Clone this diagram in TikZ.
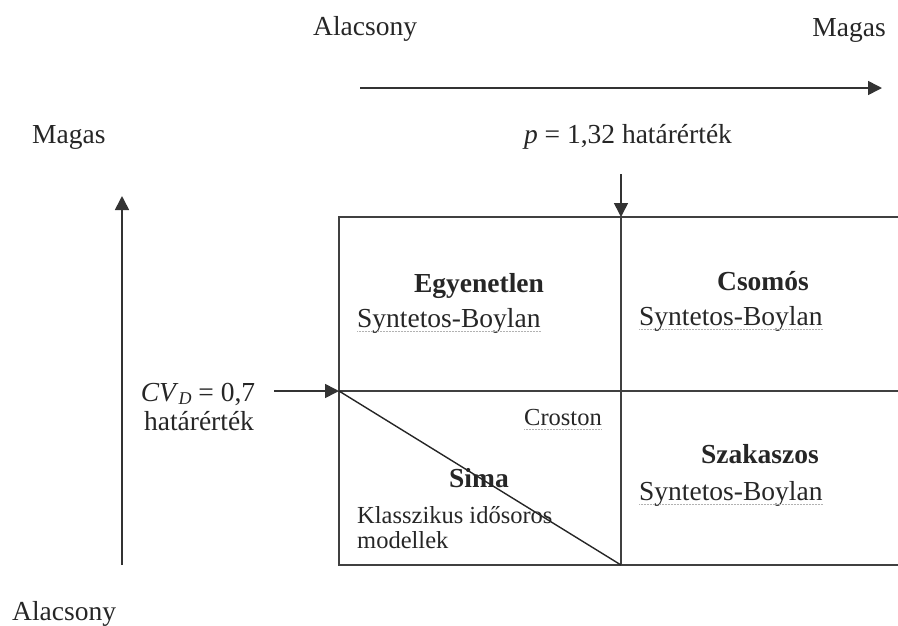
\documentclass[tikz,border=0pt]{standalone}
\usepackage{fontspec}
\setmainfont{Liberation Serif}
\usetikzlibrary{arrows.meta}
\tikzset{
  txt/.style={inner sep=0pt, text=black!85, font=\fontsize{27.5}{32}\selectfont},
  small/.style={inner sep=0pt, text=black!85, font=\fontsize{24.5}{28}\selectfont},
  head/.style={txt, font=\fontsize{27.5}{32}\selectfont\bfseries},
  grid/.style={line width=1.6pt, draw=black!75},
  arr/.style={line width=1.6pt, draw=black!80, -{Triangle[length=14pt,width=14pt]}},
  uline/.style={draw=black!30, line width=1pt, dash pattern=on 1pt off 0.5pt},
}
\begin{document}
\begin{tikzpicture}[x=1pt,y=-1pt]
\useasboundingbox (0,0) rectangle (898,625);
% grid
\coordinate (tl) at (339,217);
\coordinate (tm) at (621,217);
\coordinate (tr) at (898,217);
\coordinate (ml) at (339,391);
\coordinate (mm) at (621,391);
\coordinate (mr) at (898,391);
\coordinate (bl) at (339,565);
\coordinate (bm) at (621,565);
\coordinate (br) at (898,565);
\draw[grid] (tr) -- (tl) -- (bl) -- (br);
\draw[grid] (tm) -- (bm);
\draw[grid] (ml) -- (mr);
\draw[line width=1.4pt, black!85] (ml) -- (bm);
% axes
\coordinate (hx0) at (360,88);
\coordinate (hx1) at (882,88);
\draw[arr] (hx0) -- (hx1);
\coordinate (vy0) at (122,565);
\coordinate (vy1) at (122,196);
\draw[arr] (vy0) -- (vy1);
\coordinate (pa) at (621,174);
\draw[arr] (pa) -- (tm);
\coordinate (cva) at (274,391);
\draw[arr] (cva) -- (ml);
% axis labels
\node[txt, anchor=base west] (alt) at (313,35) {Alacsony};
\node[txt, anchor=base east] (mgt) at (886,36) {Magas};
\node[txt, anchor=base west] (mgl) at (32,143) {Magas};
\node[txt, anchor=base west] (alb) at (12,620) {Alacsony};
\node[txt, anchor=base] (plab) at (628,143) {\textit{p} = 1,32 határérték};
\node[txt, anchor=base] (cv1) at (198,401) {\textit{CV}\raisebox{-3pt}{\fontsize{18}{20}\selectfont\textit{D}} = 0,7};
\node[txt, anchor=base] (cv2) at (199,430) {határérték};
% cells
\node[head, anchor=base] (egy) at (479,292) {Egyenetlen};
\node[txt, anchor=base west] (sb1) at (357,327) {Syntetos-Boylan};
\node[head, anchor=base] (csm) at (763,290) {Csomós};
\node[txt, anchor=base west] (sb2) at (639,325) {Syntetos-Boylan};
\node[small, anchor=base] (cro) at (563,425) {Croston};
\node[head, anchor=base] (sima) at (479,487) {Sima};
\node[small, anchor=base west] (kl1) at (357,523) {Klasszikus idősoros};
\node[small, anchor=base west] (kl2) at (357,548) {modellek};
\node[head, anchor=base] (szk) at (760,463) {Szakaszos};
\node[txt, anchor=base west] (sb3) at (639,500) {Syntetos-Boylan};
% underlines
\foreach \n in {sb1,sb2,sb3,cro}{
  \draw[uline] ([yshift=-4pt]\n.base west) -- ([yshift=-4pt]\n.base east);
}
\end{tikzpicture}
\end{document}
